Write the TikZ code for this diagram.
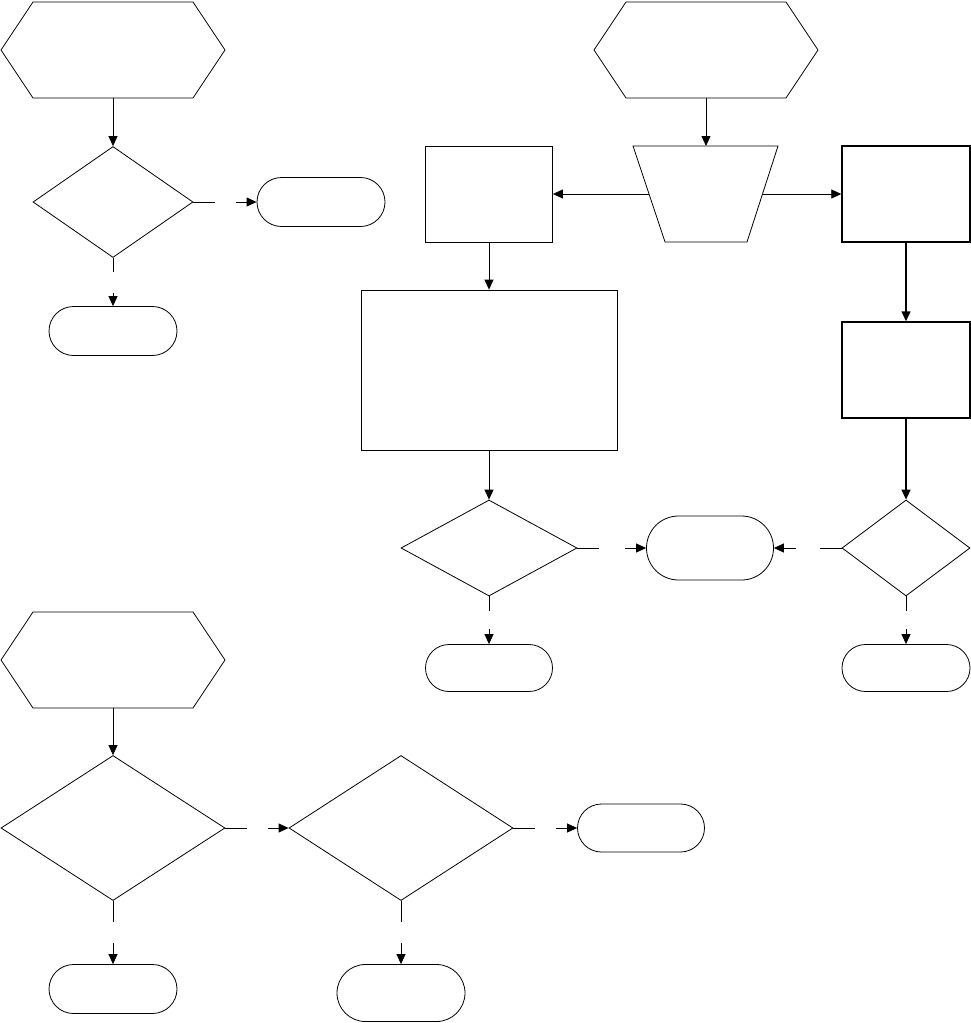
\documentclass[tikz,border=0pt]{standalone}
\usepackage{tikz}
\usetikzlibrary{positioning,shapes.geometric,shapes.misc,shapes.symbols,arrows.meta}

\tikzset{
  hexbox/.style={draw, signal, signal to=east and west, signal pointer angle=112.6,
    minimum width=224pt, minimum height=96pt, inner sep=0pt},
  decbox/.style={draw, diamond, inner sep=0pt},
  termbox/.style={draw, rounded rectangle, minimum width=128pt, minimum height=49pt, inner sep=0pt},
  procbox/.style={draw, rectangle, minimum width=128pt, minimum height=96pt, inner sep=0pt},
  flow/.style={-{Triangle[length=10pt,width=9pt]}},
  gapmark/.style={fill=white, minimum width=21pt, minimum height=21pt, inner sep=0pt},
}

\begin{document}
\begin{tikzpicture}[x=1pt, y=-1pt, line width=0.8pt]
  \useasboundingbox (0,0) rectangle (971,1023);

  % Upper left flow
  \node[hexbox] (hexA) at (113,50) {};
  \node[decbox, minimum width=160pt, minimum height=111pt] (decA) at (113,202) {};
  \node[termbox] (endA1) at (321,202) {};
  \node[termbox] (endA2) at (113,331) {};
  \draw[flow] (hexA) -- (decA);
  \draw[flow] (decA.east) -- node[gapmark]{} (endA1.west);
  \draw[flow] (decA.south) -- node[gapmark]{} (endA2.north);

  % Right column
  \begin{scope}[line width=1.4pt]
    \node[procbox] (boxB) at (906,194) {};
    \node[procbox] (boxC) at (906,370) {};
    \node[decbox, line width=0.8pt, minimum width=128pt, minimum height=96pt] (decC) at (906,548) {};
    \draw[flow] (boxB) -- (boxC);
    \draw[flow] (boxC) -- (decC);
  \end{scope}
  \node[termbox, minimum height=47pt] (endC) at (906,668) {};

  % Upper right flow
  \node[hexbox] (hexB) at (706,50) {};
  % manual operation (trapezium)
  \draw (633,146) coordinate (trapN0) -- (778,146) -- (747,242) -- (665,242) -- cycle;
  \coordinate (trapN) at (706,146);
  \coordinate (trapW) at (649,194);
  \coordinate (trapE) at (763,194);
  \node[procbox, minimum width=127pt] (boxA) at (489,194) {};
  \node[procbox, minimum width=256pt, minimum height=160pt] (bigbox) at (489,370) {};
  \node[decbox, minimum width=176pt, minimum height=96pt] (decB) at (489,548) {};
  \node[termbox, minimum width=127pt, minimum height=47pt] (endB) at (489,668) {};
  \node[termbox, minimum width=127pt, minimum height=64pt] (endMid) at (710,548) {};
  \draw[flow] (hexB) -- (trapN);
  \draw[flow] (trapW) -- (boxA.east);
  \draw[flow] (trapE) -- (boxB.west);
  \draw[flow] (boxA) -- (bigbox);
  \draw[flow] (bigbox) -- (decB);
  \draw[flow] (decB.east) -- node[gapmark, minimum width=26pt]{} (endMid.west);
  \draw[flow] (decB.south) -- node[gapmark, minimum height=18pt]{} (endB.north);
  \draw[flow] (decC.west) -- node[gapmark, minimum width=24pt]{} (endMid.east);
  \draw[flow] (decC.south) -- node[gapmark, minimum height=18pt]{} (endC.north);

  % Lower flow
  \node[hexbox] (hexC) at (113,660) {};
  \node[decbox, minimum width=224pt, minimum height=145pt] (decD) at (113,828) {};
  \node[decbox, minimum width=224pt, minimum height=145pt] (decE) at (401,828) {};
  \node[termbox, minimum width=127pt, minimum height=48pt] (endD1) at (641,828) {};
  \node[termbox] (endD2) at (113,989) {};
  \node[termbox, minimum height=57pt] (endE) at (401,993) {};
  \draw[flow] (hexC) -- (decD);
  \draw[flow] (decD.east) -- node[gapmark]{} (decE.west);
  \draw[flow] (decE.east) -- node[gapmark]{} (endD1.west);
  \draw[flow] (decD.south) -- node[gapmark]{} (endD2.north);
  \draw[flow] (decE.south) -- node[gapmark]{} (endE.north);
\end{tikzpicture}
\end{document}
